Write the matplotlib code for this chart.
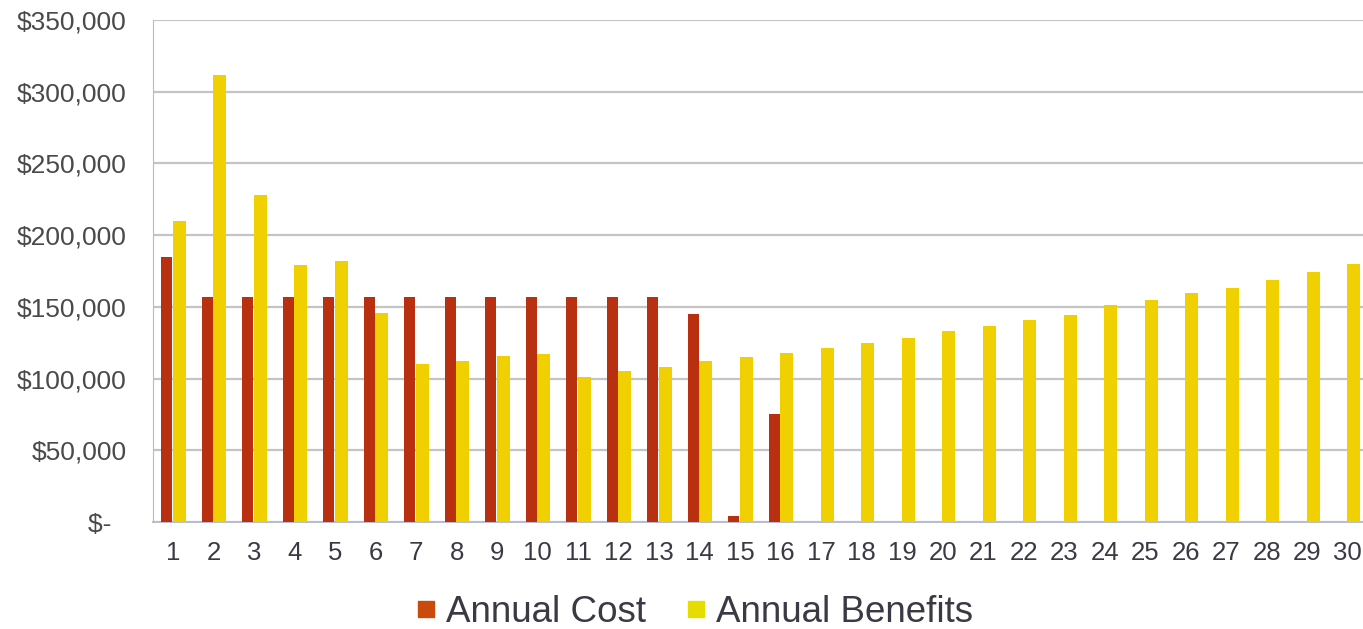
import matplotlib

matplotlib.use("Agg")
import matplotlib.pyplot as plt  # noqa: E402
from matplotlib.lines import Line2D  # noqa: E402
import numpy as np  # noqa: E402

years = list(range(1, 31))
annual_cost = [185000, 157000, 157000, 157000, 157000, 157000, 157000, 157000, 157000, 157000,
               157000, 157000, 157000, 145000, 4500, 75000, 0, 0, 0, 0,
               0, 0, 0, 0, 0, 0, 0, 0, 0, 0]
annual_benefits = [210000, 312000, 228000, 179000, 182000, 146000, 110000, 112000, 116000, 117000,
                   101000, 105000, 108000, 112000, 115000, 118000, 121000, 125000, 128000, 133000,
                   136500, 140500, 144500, 151000, 155000, 160000, 163000, 169000, 174000, 180000]

plt.rcParams["font.family"] = ["Liberation Sans", "DejaVu Sans"]

cost_color = "#B8300F"
benefit_color = "#F0D000"

fig = plt.figure(figsize=(13.63, 6.29), dpi=100)
ax = fig.add_axes([153 / 1363, 1 - 522 / 629, 1215 / 1363, 502 / 629])

x = np.array(years)
ax.bar(x - 0.16, annual_cost, width=0.28, color=cost_color, zorder=3)
ax.bar(x + 0.15, annual_benefits, width=0.32, color=benefit_color, zorder=3)

ax.set_xlim(0.5, 30.5)
ax.set_ylim(0, 350000)
ax.set_yticks(range(0, 350001, 50000))
ax.set_yticklabels(["$-  "] + [f"${v:,}" for v in range(50000, 350001, 50000)])
ax.set_xticks(years)
ax.set_xticklabels([str(y) for y in years])
ax.yaxis.grid(True, color="#C4C4C4", linewidth=1.6, zorder=0)
ax.tick_params(axis="y", length=0, labelsize=19, labelcolor="#4A4A4A", pad=19)
ax.tick_params(axis="x", length=0, labelsize=18.5, labelcolor="#3A3A44", pad=14)
for side in ("top", "right"):
    ax.spines[side].set_visible(False)
ax.spines["left"].set_color("#BBBBBB")
ax.spines["bottom"].set_color("#B8BCD0")
ax.spines["bottom"].set_linewidth(1.4)

handles = [
    Line2D([], [], linestyle="none", marker="s", markersize=11, color="#C94A0C"),
    Line2D([], [], linestyle="none", marker="s", markersize=11, color="#E6DC00"),
]
fig.legend(handles, ["Annual Cost", "Annual Benefits"], loc="center",
           bbox_to_anchor=(695 / 1363, 1 - 612 / 629), ncol=2, frameon=False,
           fontsize=26.5, handlelength=0.5, handletextpad=0.3, columnspacing=1.1,
           labelcolor="#3A3A44")

fig.savefig("out.png", dpi=100)
